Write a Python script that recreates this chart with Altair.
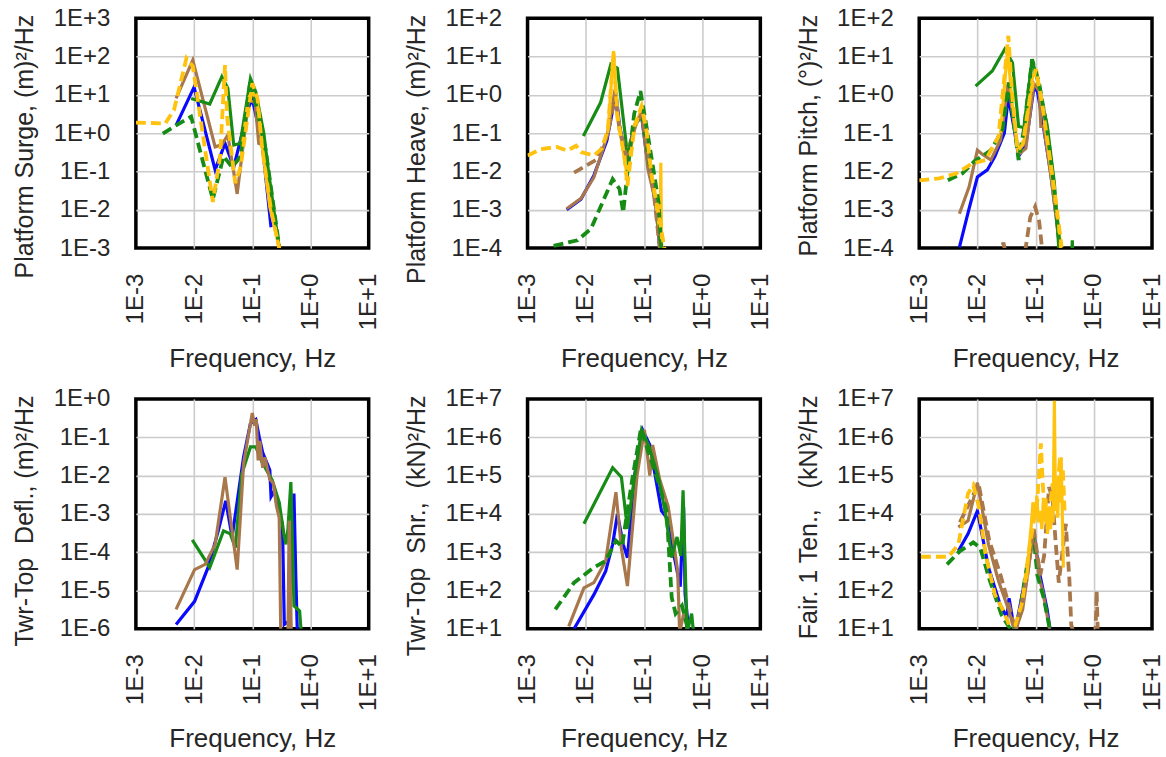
import altair as alt
import pandas as pd

# ---------------- Panel 1: Platform Surge ----------------
SURGE_BLUE_F = [4.9e-3, 1.0e-2, 2.3e-2, 3.4e-2, 4.8e-2, 8.7e-2, 0.10, 0.148, 0.21]
SURGE_BLUE_V = [1.6, 16, 0.11, 0.54, 0.13, 4.9, 7.9, 0.54, 3.5e-3]
SURGE_BROWN_F = [4.9e-3, 9.5e-3, 2.3e-2, 3.0e-2, 3.8e-2, 5.5e-2, 8.7e-2, 0.112, 0.129, 0.148, 0.195, 0.29]
SURGE_BROWN_V = [8.1, 81, 0.44, 0.5, 0.9, 0.026, 7.4, 6.3, 0.54, 0.5, 0.032, 1.1e-3]
SURGE_GREEN_F = [8.9e-3, 1.86e-2, 3.0e-2, 3.8e-2, 4.8e-2, 6.2e-2, 9.3e-2, 0.115, 0.158, 0.19, 0.25, 0.29]
SURGE_GREEN_V = [8.1, 5.8, 30, 15, 0.49, 0.54, 27, 12, 0.98, 0.1, 5e-3, 1e-3]
SURGE_GREEND_F = [2.9e-3, 4.9e-3, 8.9e-3, 1.35e-2, 2.1e-2, 3.2e-2, 4.5e-2, 6.3e-2, 9.3e-2, 0.17, 0.29]
SURGE_GREEND_V = [0.98, 1.6, 2.7, 0.24, 0.019, 0.25, 0.13, 0.25, 25, 0.36, 1.1e-3]
SURGE_GOLD_F = [6.3e-2, 8.5e-2, 0.1, 0.123, 0.15, 0.2, 0.3]
SURGE_GOLD_V = [0.2, 8.0, 12, 6.0, 0.4, 0.012, 8e-4]
SURGE_GOLDD_F = [1e-3, 3.2e-3, 4.5e-3, 7.4e-3, 9.5e-3, 1.35e-2, 2.1e-2, 2.8e-2, 3.4e-2, 3.7e-2, 5.1e-2, 6.3e-2, 0.1, 0.123, 0.148, 0.21, 0.3]
SURGE_GOLDD_V = [1.9, 1.8, 4.0, 91, 56, 1.5, 0.016, 0.25, 60, 2.5, 0.05, 0.13, 20, 8.0, 0.4, 0.01, 8e-4]

# ---------------- Panel 2: Platform Heave ----------------
HEAVE_BLUE_F = [4.7e-3, 8.3e-3, 1.38e-2, 2.3e-2, 3.3e-2, 3.8e-2, 5.0e-2, 6.9e-2, 9.1e-2, 0.112, 0.158, 0.19]
HEAVE_BLUE_V = [1.0e-3, 1.9e-3, 7.9e-3, 0.063, 1.15, 0.16, 0.02, 0.16, 0.28, 0.025, 1.6e-3, 8e-5]
HEAVE_BROWN_F = [4.7e-3, 8.3e-3, 1.38e-2, 2.3e-2, 3.2e-2, 3.7e-2, 5.0e-2, 6.9e-2, 9.1e-2, 0.117, 0.158, 0.19]
HEAVE_BROWN_V = [1.07e-3, 2.0e-3, 7.0e-3, 0.08, 1.4, 0.2, 0.016, 0.16, 0.35, 0.0115, 1.6e-3, 8e-5]
HEAVE_GREEN_F = [9.1e-3, 1.8e-2, 2.7e-2, 3.5e-2, 5.2e-2, 7.1e-2, 9.1e-2, 0.117, 0.166, 0.2]
HEAVE_GREEN_V = [0.085, 0.63, 6.3, 5.0, 0.028, 0.16, 0.32, 0.025, 1e-3, 8e-5]
HEAVE_GREEND_F = [2.8e-3, 7.2e-3, 1.23e-2, 2.9e-2, 3.8e-2, 4.4e-2, 5.2e-2, 6.8e-2, 8.7e-2, 0.11, 0.14, 0.178, 0.2]
HEAVE_GREEND_V = [1.15e-4, 1.6e-4, 3.2e-4, 6.3e-3, 3.5e-3, 8.5e-4, 9.3e-3, 0.32, 1.26, 0.155, 0.016, 1.6e-3, 8e-5]
HEAVE_BROWND_F = [6.3e-3, 1.0e-2, 1.58e-2, 2.4e-2, 3.2e-2, 3.8e-2, 5.0e-2, 7.1e-2, 9.1e-2, 0.112, 0.151, 0.19]
HEAVE_BROWND_V = [9.3e-3, 0.014, 0.021, 0.1, 1.0, 0.126, 0.025, 0.16, 0.32, 0.05, 2.0e-3, 8e-5]
HEAVE_GOLD_F = [2.4e-2, 3.0e-2, 3.5e-2, 5.0e-2, 6.9e-2, 9.1e-2, 0.112, 0.141, 0.19, 0.195, 0.2, 0.205]
HEAVE_GOLD_V = [0.1, 14, 0.32, 0.01, 0.126, 0.45, 0.1, 5e-3, 2.5e-4, 1.7e-2, 2e-4, 8e-5]
HEAVE_GOLDD_F = [1e-3, 1.66e-3, 3.2e-3, 4.8e-3, 6.8e-3, 8.3e-3, 1.38e-2, 1.9e-2, 2.4e-2, 3.0e-2, 3.5e-2, 4.6e-2, 5.2e-2, 6.9e-2, 9.1e-2, 0.11, 0.135, 0.178, 0.23]
HEAVE_GOLDD_V = [0.026, 0.038, 0.044, 0.035, 0.047, 0.032, 0.026, 0.04, 0.126, 12.6, 0.25, 0.025, 4.2e-3, 0.16, 0.51, 0.126, 8e-3, 8e-4, 8e-5]

# ---------------- Panel 3: Platform Pitch ----------------
PITCH_BLUE_F = [4.9e-3, 7.1e-3, 1.0e-2, 1.48e-2, 2.0e-2, 2.9e-2, 3.4e-2, 4.3e-2, 5.1e-2, 6.8e-2, 9.3e-2, 0.107, 0.129, 0.18, 0.22, 0.27]
PITCH_BLUE_V = [1.05e-4, 1e-3, 7.2e-3, 0.011, 0.025, 0.1, 0.91, 0.126, 0.025, 0.05, 1.5, 1.26, 0.25, 0.01, 9e-4, 1.05e-4]
PITCH_BROWN_F = [4.9e-3, 7.2e-3, 1.0e-2, 1.23e-2, 1.7e-2, 2.5e-2, 3.4e-2, 4.3e-2, 5.1e-2, 6.8e-2, 9.3e-2, 0.115, 0.123, 0.138, 0.19, 0.26]
PITCH_BROWN_V = [7.9e-4, 4e-3, 0.036, 0.028, 0.02, 0.066, 2.1, 0.16, 0.028, 0.04, 2.0, 1.26, 0.15, 0.15, 5e-3, 1.05e-4]
PITCH_GREEN_F = [9.3e-3, 1.8e-2, 2.95e-2, 4.0e-2, 5.1e-2, 6.3e-2, 8.7e-2, 0.107, 0.158, 0.21, 0.25, 0.28, 0.41, 0.427, 0.44]
PITCH_GREEN_V = [1.7, 4.2, 15.5, 6.9, 0.15, 0.14, 8.5, 2.5, 0.16, 5e-3, 1.05e-4, 3e-5, 3e-5, 1.6e-4, 3e-5]
PITCH_GREEND_F = [3.1e-3, 5.5e-3, 8.7e-3, 1.7e-2, 2.7e-2, 3.5e-2, 4.2e-2, 5.1e-2, 6.3e-2, 8.7e-2, 0.115, 0.158, 0.2, 0.26]
PITCH_GREEND_V = [5.9e-3, 8.9e-3, 0.018, 0.036, 0.12, 2.1, 0.2, 0.02, 0.126, 8.5, 2.0, 0.126, 6.3e-3, 1.05e-4]
PITCH_GOLD_F = [2.5e-2, 3.3e-2, 4.0e-2, 5.0e-2, 6.3e-2, 8.9e-2, 0.105, 0.132, 0.178, 0.25, 0.28]
PITCH_GOLD_V = [0.1, 16, 0.5, 0.032, 0.063, 3.2, 4.0, 0.5, 0.016, 3.2e-4, 6e-5]
PITCH_GOLDD_F = [1e-3, 2.2e-3, 4.3e-3, 8.1e-3, 1.38e-2, 2.3e-2, 3.4e-2, 4.0e-2, 4.9e-2, 6.0e-2, 7.9e-2, 0.1, 0.129, 0.17, 0.22, 0.28]
PITCH_GOLDD_V = [5.9e-3, 6.6e-3, 8.9e-3, 0.016, 0.02, 0.081, 35, 0.8, 0.036, 0.05, 0.8, 4.7, 0.63, 0.032, 2e-3, 1.05e-4]
PITCH_BROWND_F = [2.4e-2, 2.8e-2, 3.2e-2, 6.3e-2, 8.1e-2, 9.8e-2, 0.115, 0.135]
PITCH_BROWND_V = [5e-5, 1.4e-4, 5e-5, 5e-5, 6.5e-4, 1.2e-3, 5e-4, 5e-5]

# ---------------- Panel 4: Tower-top deflection ----------------
DEFL_BLUE_F = [4.9e-3, 1.02e-2, 1.74e-2, 2.6e-2, 3.5e-2, 4.5e-2, 7.1e-2, 9.3e-2, 0.115, 0.132, 0.151, 0.2, 0.21, 0.24, 0.275, 0.33, 0.355, 0.43, 0.52, 0.56, 0.6]
DEFL_BLUE_V = [1.3e-6, 5.2e-6, 4e-5, 3.6e-4, 2.2e-3, 2.5e-4, 0.031, 0.23, 0.29, 0.1, 0.04, 0.014, 2.8e-3, 4e-3, 1.3e-3, 5.5e-4, 1.3e-6, 1.6e-6, 3.4e-3, 2.1e-5, 5e-7]
DEFL_GREEN_F = [9.3e-3, 1.86e-2, 3.2e-2, 4.2e-2, 5.1e-2, 6.6e-2, 9.3e-2, 0.115, 0.148, 0.22, 0.29, 0.355, 0.38, 0.41, 0.46, 0.49, 0.52, 0.65, 0.71]
DEFL_GREEN_V = [2.1e-4, 4e-5, 3.6e-4, 3e-4, 1.3e-4, 0.011, 0.056, 0.056, 0.022, 7.6e-3, 2e-3, 2.5e-4, 1.6e-4, 4e-4, 6.8e-3, 1.6e-4, 4e-6, 2.9e-6, 5e-7]
DEFL_BROWN_F = [4.9e-3, 1.02e-2, 1.55e-2, 2.3e-2, 3.4e-2, 5.5e-2, 7.1e-2, 0.1, 0.11, 0.117, 0.126, 0.135, 0.141, 0.151, 0.165, 0.186, 0.2, 0.23, 0.26, 0.29, 0.31, 0.41, 0.43, 0.47]
DEFL_BROWN_V = [3.2e-6, 3.5e-5, 4.8e-5, 1.6e-4, 9.1e-3, 3.5e-5, 0.021, 0.43, 0.2, 0.3, 0.025, 0.08, 0.04, 0.016, 0.03, 0.0126, 0.008, 6.3e-3, 1.6e-3, 8e-4, 5e-7, 5e-7, 6.6e-4, 5e-7]

# ---------------- Panel 5: Tower-top shear ----------------
SHR_BLUE_F = [6.3e-3, 1.38e-2, 2.2e-2, 2.9e-2, 3.5e-2, 4.4e-2, 5.2e-2, 6.9e-2, 9.5e-2, 0.126, 0.2, 0.245, 0.32, 0.42, 0.48, 0.51, 0.59]
SHR_BLUE_V = [10, 78, 320, 1.6e3, 1e4, 1.6e3, 720, 1e5, 1.55e6, 6.3e5, 1.2e4, 8e3, 1e3, 126, 1.5e4, 80, 8]
SHR_BROWN_F = [5.1e-3, 9.3e-3, 1.38e-2, 2.2e-2, 3.3e-2, 4.1e-2, 5.2e-2, 7.6e-2, 0.102, 0.126, 0.141, 0.186, 0.26, 0.32, 0.38, 0.41, 0.5, 0.56]
SHR_BROWN_V = [11.5, 117, 160, 590, 3.7e4, 1.26e3, 130, 1e5, 1.55e6, 1e5, 6.3e5, 8e4, 1.6e4, 2e3, 320, 8, 32, 8]
SHR_GREEN_F = [9.3e-3, 2.9e-2, 4.1e-2, 5.2e-2, 6.8e-2, 9.1e-2, 0.12, 0.18, 0.23, 0.3, 0.37, 0.43, 0.47, 0.51, 0.55, 0.66, 0.71]
SHR_GREEN_V = [5.5e3, 1.6e5, 9.1e4, 4.1e3, 8e4, 1.55e6, 6.3e5, 8e4, 1.2e4, 720, 2.5e3, 800, 4.1e4, 480, 8, 25, 8]
SHR_GREEND_F = [3e-3, 6.3e-3, 1.38e-2, 2.2e-2, 3.3e-2, 4.2e-2, 6.3e-2, 8.9e-2, 0.12, 0.18, 0.245, 0.3, 0.35, 0.45, 0.59]
SHR_GREEND_V = [32, 160, 400, 590, 2e3, 1.4e3, 8e4, 1.7e6, 4e5, 6.3e4, 1.2e4, 65, 25, 40, 8]

# ---------------- Panel 6: Fairlead 1 tension ----------------
TEN_BLUE_F = [4.7e-3, 6.9e-3, 1.0e-2, 1.55e-2, 2.45e-2, 3.2e-2, 3.5e-2, 4.4e-2, 7.8e-2, 9.3e-2, 0.115, 0.158, 0.18]
TEN_BLUE_V = [1.07e3, 3e3, 1.2e4, 400, 43, 20, 63, 8, 720, 3.2e3, 320, 32, 8]
TEN_BROWN_F = [4.7e-3, 6.9e-3, 1.0e-2, 1.55e-2, 2.3e-2, 3.5e-2, 4.4e-2, 6.0e-2, 9.3e-2, 0.115, 0.132, 0.178]
TEN_BROWN_V = [4.5e3, 6.6e3, 6.5e4, 1.6e3, 180, 29, 8, 32, 3.6e3, 220, 100, 8]
TEN_GREEND_F = [3e-3, 5e-3, 8.5e-3, 1.12e-2, 1.6e-2, 2.6e-2, 4.0e-2, 5.2e-2, 7.4e-2, 9.3e-2, 0.107, 0.138, 0.17, 0.18]
TEN_GREEND_V = [480, 1.07e3, 1.8e3, 1.3e3, 200, 23, 8, 23, 630, 2.5e3, 250, 63, 12.6, 8]
TEN_BROWND_F = [5.0e-3, 1.05e-2, 1.6e-2, 2.5e-2, 3.5e-2, 4.5e-2, 7.0e-2, 9.3e-2, 0.12, 0.14, 0.17, 0.195, 0.22, 0.25, 0.33, 0.38, 0.41, 0.45, 1.07, 1.12, 1.17]
TEN_BROWND_V = [6e3, 6e4, 2e3, 250, 40, 8, 200, 4e3, 250, 800, 5e4, 2.5e4, 2e3, 160, 5.5e3, 200, 12.6, 8, 8, 95, 8]
TEN_GOLD_F = [7.0e-2, 7.8e-2, 8.5e-2, 9.0e-2, 0.1, 0.105, 0.112, 0.12, 0.128, 0.135, 0.141, 0.15, 0.16, 0.17, 0.18, 0.19, 0.2, 0.21, 0.22, 0.23, 0.24, 0.25, 0.26, 0.275, 0.29, 0.3]
TEN_GOLD_V = [200, 1.5e3, 6e3, 2e4, 8e3, 3e4, 6e3, 1.2e4, 4e3, 2e4, 8e3, 2.5e4, 3e3, 1e4, 4e3, 1.5e4, 6e3, 9e6, 1.2e4, 3e4, 8e3, 1e5, 2e4, 3e5, 5e3, 400]
TEN_GOLDD_F = [1.07e-3, 3.2e-3, 4.7e-3, 6.9e-3, 8.5e-3, 1.05e-2, 1.4e-2, 2.0e-2, 2.8e-2, 3.5e-2, 4.5e-2, 5.9e-2, 7.8e-2, 9.3e-2, 0.107, 0.123, 0.141, 0.162, 0.195, 0.224, 0.257, 0.295, 0.316]
TEN_GOLDD_V = [760, 760, 1.6e3, 3.4e4, 5.6e4, 1.6e4, 800, 78, 29, 12.6, 12.6, 50, 1.3e3, 6.3e3, 2.2e4, 6.9e5, 1e4, 4e3, 6.2e4, 1.6e4, 2e5, 1.26e5, 1e4]

# ---------------- styling ----------------
STYLE = {
    "blue": ("#0a0aff", None),
    "brown": ("#a8784c", None),
    "green": ("#168c16", None),
    "gold": ("#ffc20e", None),
    "brownd": ("#a8784c", [10, 5]),
    "greend": ("#168c16", [10, 5]),
    "goldd": ("#ffc20e", [10, 5]),
}
FONT = "Liberation Sans"
TXT = "#262626"
GRID = "#cccccc"
LABEL_EXPR = ("'1E' + (round(log(datum.value)/LN10) >= 0 ? '+' : '') + "
              "round(log(datum.value)/LN10)")
X_TICKS = [1e-3, 1e-2, 1e-1, 1, 10]


def inner_grid(lo, hi):
    # grid lines only inside the frame, so the black frame stays unbroken
    return {"condition": {"test": f"datum.value > {lo * 1.5} && datum.value < {hi / 1.5}",
                          "value": GRID},
            "value": "transparent"}


def panel(series, ymin, ymax, ytitle):
    yticks = [10.0 ** k for k in range(ymin, ymax + 1)]
    ylo, yhi = 10.0 ** ymin, 10.0 ** ymax
    xs = alt.Scale(type="log", domain=[1e-3, 10], nice=False)
    ys = alt.Scale(type="log", domain=[ylo, yhi], nice=False)
    xa = alt.Axis(values=X_TICKS, labelExpr=LABEL_EXPR, labelAngle=270, labelAlign="right",
                  labelBaseline="middle", labelPadding=25, labelFlush=False, labelOverlap=False,
                  ticks=False, domain=False, grid=True, gridColor=inner_grid(1e-3, 10),
                  title="Frequency, Hz", titleFontSize=26,
                  titleY=118, titleBaseline="alphabetic")
    ya = alt.Axis(values=yticks, labelExpr=LABEL_EXPR, labelPadding=26, labelFlush=False,
                  labelOverlap=False, ticks=False, domain=False, grid=True,
                  gridColor=inner_grid(ylo, yhi), title=ytitle,
                  titleAngle=270, titleAlign="right", titleBaseline="alphabetic",
                  titleX=-103, titleY=-4)
    layers = []
    for key, f, v in series:
        color, dash = STYLE[key]
        df = pd.DataFrame({"f": f, "v": v})
        kw = dict(color=color, strokeWidth=3.2, clip=True)
        if dash:
            kw["strokeDash"] = dash
            kw["strokeWidth"] = 3.8
        layers.append(
            alt.Chart(df).mark_line(**kw).encode(
                x=alt.X("f:Q", scale=xs, axis=xa),
                y=alt.Y("v:Q", scale=ys, axis=ya),
            )
        )
    return alt.layer(*layers).properties(width=233, height=230)


p1 = panel([
    ("blue", SURGE_BLUE_F, SURGE_BLUE_V),
    ("brown", SURGE_BROWN_F, SURGE_BROWN_V),
    ("green", SURGE_GREEN_F, SURGE_GREEN_V),
    ("gold", SURGE_GOLD_F, SURGE_GOLD_V),
    ("greend", SURGE_GREEND_F, SURGE_GREEND_V),
    ("goldd", SURGE_GOLDD_F, SURGE_GOLDD_V),
], -3, 3, "Platform Surge, (m)²/Hz")

p2 = panel([
    ("blue", HEAVE_BLUE_F, HEAVE_BLUE_V),
    ("brown", HEAVE_BROWN_F, HEAVE_BROWN_V),
    ("green", HEAVE_GREEN_F, HEAVE_GREEN_V),
    ("gold", HEAVE_GOLD_F, HEAVE_GOLD_V),
    ("brownd", HEAVE_BROWND_F, HEAVE_BROWND_V),
    ("greend", HEAVE_GREEND_F, HEAVE_GREEND_V),
    ("goldd", HEAVE_GOLDD_F, HEAVE_GOLDD_V),
], -4, 2, "Platform Heave, (m)²/Hz")

p3 = panel([
    ("blue", PITCH_BLUE_F, PITCH_BLUE_V),
    ("brown", PITCH_BROWN_F, PITCH_BROWN_V),
    ("green", PITCH_GREEN_F, PITCH_GREEN_V),
    ("gold", PITCH_GOLD_F, PITCH_GOLD_V),
    ("brownd", PITCH_BROWND_F, PITCH_BROWND_V),
    ("greend", PITCH_GREEND_F, PITCH_GREEND_V),
    ("goldd", PITCH_GOLDD_F, PITCH_GOLDD_V),
], -4, 2, "Platform Pitch, (°)²/Hz")

p4 = panel([
    ("blue", DEFL_BLUE_F, DEFL_BLUE_V),
    ("green", DEFL_GREEN_F, DEFL_GREEN_V),
    ("brown", DEFL_BROWN_F, DEFL_BROWN_V),
], -6, 0, "Twr-Top\u00a0 Defl., (m)²/Hz")

p5 = panel([
    ("blue", SHR_BLUE_F, SHR_BLUE_V),
    ("brown", SHR_BROWN_F, SHR_BROWN_V),
    ("green", SHR_GREEN_F, SHR_GREEN_V),
    ("greend", SHR_GREEND_F, SHR_GREEND_V),
], 1, 7, "Twr-Top\u00a0 Shr.,\u00a0 (kN)²/Hz")

p6 = panel([
    ("blue", TEN_BLUE_F, TEN_BLUE_V),
    ("brown", TEN_BROWN_F, TEN_BROWN_V),
    ("greend", TEN_GREEND_F, TEN_GREEND_V),
    ("brownd", TEN_BROWND_F, TEN_BROWND_V),
    ("gold", TEN_GOLD_F, TEN_GOLD_V),
    ("goldd", TEN_GOLDD_F, TEN_GOLDD_V),
], 1, 7, "Fair. 1 Ten.,\u00a0\u00a0 (kN)²/Hz")

chart = alt.concat(
    p1, p2, p3, p4, p5, p6, columns=3,
    spacing={"row": 151, "column": 159}, bounds="flush",
).properties(
    background="white",
    padding={"left": 11, "top": 4, "right": 0, "bottom": 0},
).configure_view(
    stroke="black", strokeWidth=3.5
).configure_axis(
    gridWidth=1.6,
    labelFont=FONT, labelFontSize=24, labelColor=TXT,
    titleFont=FONT, titleFontSize=25, titleFontWeight="normal", titleColor=TXT,
)

chart.save("out.html", embed_options={"renderer": "svg", "actions": False})
